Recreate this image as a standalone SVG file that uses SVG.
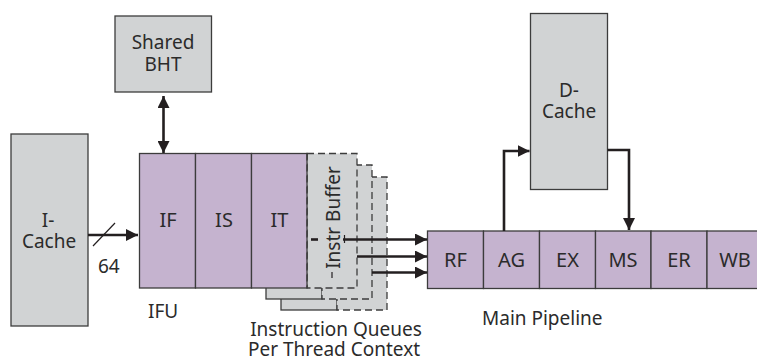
<svg xmlns="http://www.w3.org/2000/svg" width="757" height="362" viewBox="0 0 757 362">
  <style>
    .box { fill: #d1d3d4; stroke: #3c3c3c; stroke-width: 1.3; }
    .stage { fill: #c5b3cf; stroke: #3c3c3c; stroke-width: 1.3; }
    .dash { fill: #d1d3d4; stroke: #3c3c3c; stroke-width: 1.3; stroke-dasharray: 7 4; }
    .dline { fill: none; stroke: #3c3c3c; stroke-width: 1.3; stroke-dasharray: 7 4; }
    .wire { fill: none; stroke: #231f20; stroke-width: 2.6; }
    .thin { fill: none; stroke: #231f20; stroke-width: 1.2; }
    text { font-family: "Noto Sans", "Open Sans", sans-serif; font-size: 19px; fill: #2b2b2b; }
    .mid { text-anchor: middle; }
    .lbl { font-size: 20px; text-anchor: middle; }
  </style>
  <defs>
    <marker id="head" viewBox="0 0 12 12" refX="12" refY="6" markerWidth="12" markerHeight="12" markerUnits="userSpaceOnUse" orient="auto-start-reverse">
      <path d="M0,0 L12,6 L0,12 Z" fill="#231f20"/>
    </marker>
  </defs>

  <!-- Shared branch history table -->
  <g id="bht">
    <rect class="box" x="115" y="16" width="96.5" height="76"/>
    <text class="mid" x="163" y="49">Shared</text>
    <text class="mid" x="163" y="71">BHT</text>
  </g>

  <!-- Instruction cache -->
  <g id="icache">
    <rect class="box" x="11" y="134" width="77" height="192"/>
    <text class="mid" x="48" y="227">I-</text>
    <text class="mid" x="49" y="248">Cache</text>
  </g>

  <!-- Data cache -->
  <g id="dcache">
    <rect class="box" x="530.5" y="13.5" width="77" height="176"/>
    <text class="mid" x="569" y="96.5">D-</text>
    <text class="mid" x="569" y="118">Cache</text>
  </g>

  <!-- Per-thread instruction queues, back to front -->
  <g id="queue3">
    <rect class="box" x="281" y="177" width="56" height="133"/>
    <rect class="dash" x="337" y="177" width="50" height="133"/>
  </g>
  <g id="queue2">
    <rect class="box" x="266" y="165" width="56" height="134"/>
    <rect class="dash" x="322" y="165" width="50" height="134"/>
  </g>

  <!-- Instruction fetch unit with front queue -->
  <g id="ifu">
    <rect class="dash" x="307" y="153.5" width="50" height="134.5"/>
    <rect class="stage" x="139.5" y="153.5" width="56" height="134.5"/>
    <rect class="stage" x="195.5" y="153.5" width="56" height="134.5"/>
    <rect class="stage" x="251.5" y="153.5" width="55.5" height="134.5"/>
    <line class="dline" x1="307" y1="153.5" x2="307" y2="288"/>
    <text class="lbl" x="168" y="226.5">IF</text>
    <text class="lbl" x="224" y="226.5">IS</text>
    <text class="lbl" x="279.5" y="226.5">IT</text>
    <text class="mid" x="340" y="217.5" font-size="18" transform="rotate(-90 340 217.5)">Instr Buffer</text>
    <line class="thin" x1="332" y1="272" x2="332" y2="278"/>
  </g>

  <!-- Main execution pipeline -->
  <g id="pipeline">
    <rect class="stage" x="427.5" y="231" width="56" height="57.5"/>
    <rect class="stage" x="483.5" y="231" width="56" height="57.5"/>
    <rect class="stage" x="539.5" y="231" width="56" height="57.5"/>
    <rect class="stage" x="595.5" y="231" width="55.5" height="57.5"/>
    <rect class="stage" x="651" y="231" width="56" height="57.5"/>
    <rect class="stage" x="707" y="231" width="56" height="57.5"/>
    <text class="lbl" x="455.5" y="267">RF</text>
    <text class="lbl" x="511.5" y="267">AG</text>
    <text class="lbl" x="567.5" y="267">EX</text>
    <text class="lbl" x="623" y="267">MS</text>
    <text class="lbl" x="679" y="267">ER</text>
    <text class="lbl" x="735" y="267">WB</text>
  </g>

  <!-- Captions -->
  <g id="captions">
    <text x="148" y="318">IFU</text>
    <text x="482" y="325" font-size="18.5">Main Pipeline</text>
    <text class="mid" x="336" y="336">Instruction Queues</text>
    <text class="mid" x="334" y="356">Per Thread Context</text>
    <text x="98" y="272.5">64</text>
  </g>

  <!-- Connectors -->
  <g id="connectors">
    <line class="wire" x1="88" y1="235" x2="138" y2="235" marker-end="url(#head)"/>
    <line class="thin" x1="93" y1="246" x2="115" y2="223"/>
    <line class="wire" x1="163.5" y1="96" x2="163.5" y2="153" marker-start="url(#head)" marker-end="url(#head)"/>
    <line class="wire" x1="311" y1="239.5" x2="318" y2="239.5" stroke-width="2"/>
    <line class="wire" x1="343" y1="239.5" x2="427" y2="239.5" marker-end="url(#head)"/>
    <line class="thin" x1="344.5" y1="235" x2="344.5" y2="243"/>
    <line class="wire" x1="357" y1="256.5" x2="427" y2="256.5" marker-end="url(#head)"/>
    <line class="wire" x1="372" y1="272.5" x2="427" y2="272.5" marker-end="url(#head)"/>
    <path class="wire" d="M504,231 V151 H529.5" marker-end="url(#head)"/>
    <path class="wire" d="M607.5,150 H629 V230" marker-end="url(#head)"/>
  </g>
</svg>
